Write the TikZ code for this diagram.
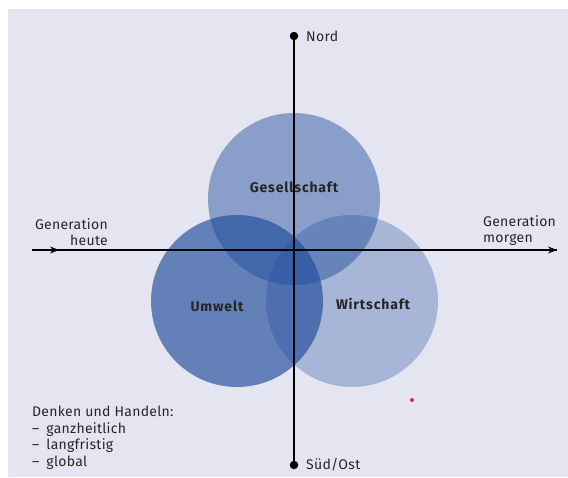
\documentclass[tikz,border=0pt]{standalone}
\usepackage{fontspec}
\setmainfont{Fira Sans}
\usepackage{tikz}
\usetikzlibrary{arrows.meta,positioning}
\definecolor{bgcol}{RGB}{229,229,241}
\definecolor{circcol}{RGB}{30,75,155}
\definecolor{dotred}{RGB}{230,40,40}

\begin{document}
\begin{tikzpicture}[x=1pt,y=-1pt]
				\tikzset{axis/.style={line width=1.1pt,black}}
				\tikzset{pole/.style={circle,fill=black,inner sep=0pt,minimum size=8.5pt}}
				\tikzset{area/.style={fill=circcol,draw=none}}
				\tikzset{label/.style={font=\fontsize{14}{16}\selectfont\addfontfeature{LetterSpace=2},text=black!85,inner sep=0pt}}
				\tikzset{sector/.style={font=\fontsize{14}{16}\selectfont\bfseries\addfontfeature{LetterSpace=6},text=black!85,inner sep=0pt}}
				\useasboundingbox (0,0) rectangle (568,477);
				\fill[bgcol] (8,9) rectangle (568,477);
				% circles
				\fill[area,fill opacity=0.46] (294,199) circle (86);
				\fill[area,fill opacity=0.65] (237,301) circle (86);
				\fill[area,fill opacity=0.31] (352,301) circle (86);
				% axes
				\node[pole] (nord) at (294,36) {};
				\node[pole] (sued) at (294,465) {};
				\coordinate (west) at (32,250);
				\coordinate (westtip) at (59,250);
				\coordinate (ost) at (557,250);
				\draw[axis] (nord) -- (sued);
				\draw[axis] (west) -- (ost);
				\draw[axis,-{Stealth[length=9pt,width=7pt]}] (west) -- (westtip);
				\draw[axis,-{Stealth[length=9pt,width=7pt]}] (westtip) -- (ost);
				\node[label,anchor=west] (nordlabel) at (306,36) {Nord};
				\node[label,anchor=west] (suedlabel) at (306,465) {Süd/Ost};
				\node[label,align=right,anchor=south east] (heute) at (108,246) {Generation\\heute};
				\node[label,align=left,anchor=south west] (morgen) at (483,246) {Generation\\morgen};
				% sectors
				\node[sector] (gesellschaft) at (294,187) {Gesellschaft};
				\node[sector] (umwelt) at (217,306) {Umwelt};
				\node[sector] (wirtschaft) at (373,304) {Wirtschaft};
				\node[label,align=left,anchor=north west,font=\fontsize{14}{16.5}\selectfont\addfontfeature{LetterSpace=2}] (denken) at (32,406) {Denken und Handeln:\\--\enspace ganzheitlich\\--\enspace langfristig\\--\enspace global};
				\fill[dotred] (412,400) circle (2);
\end{tikzpicture}
\end{document}
